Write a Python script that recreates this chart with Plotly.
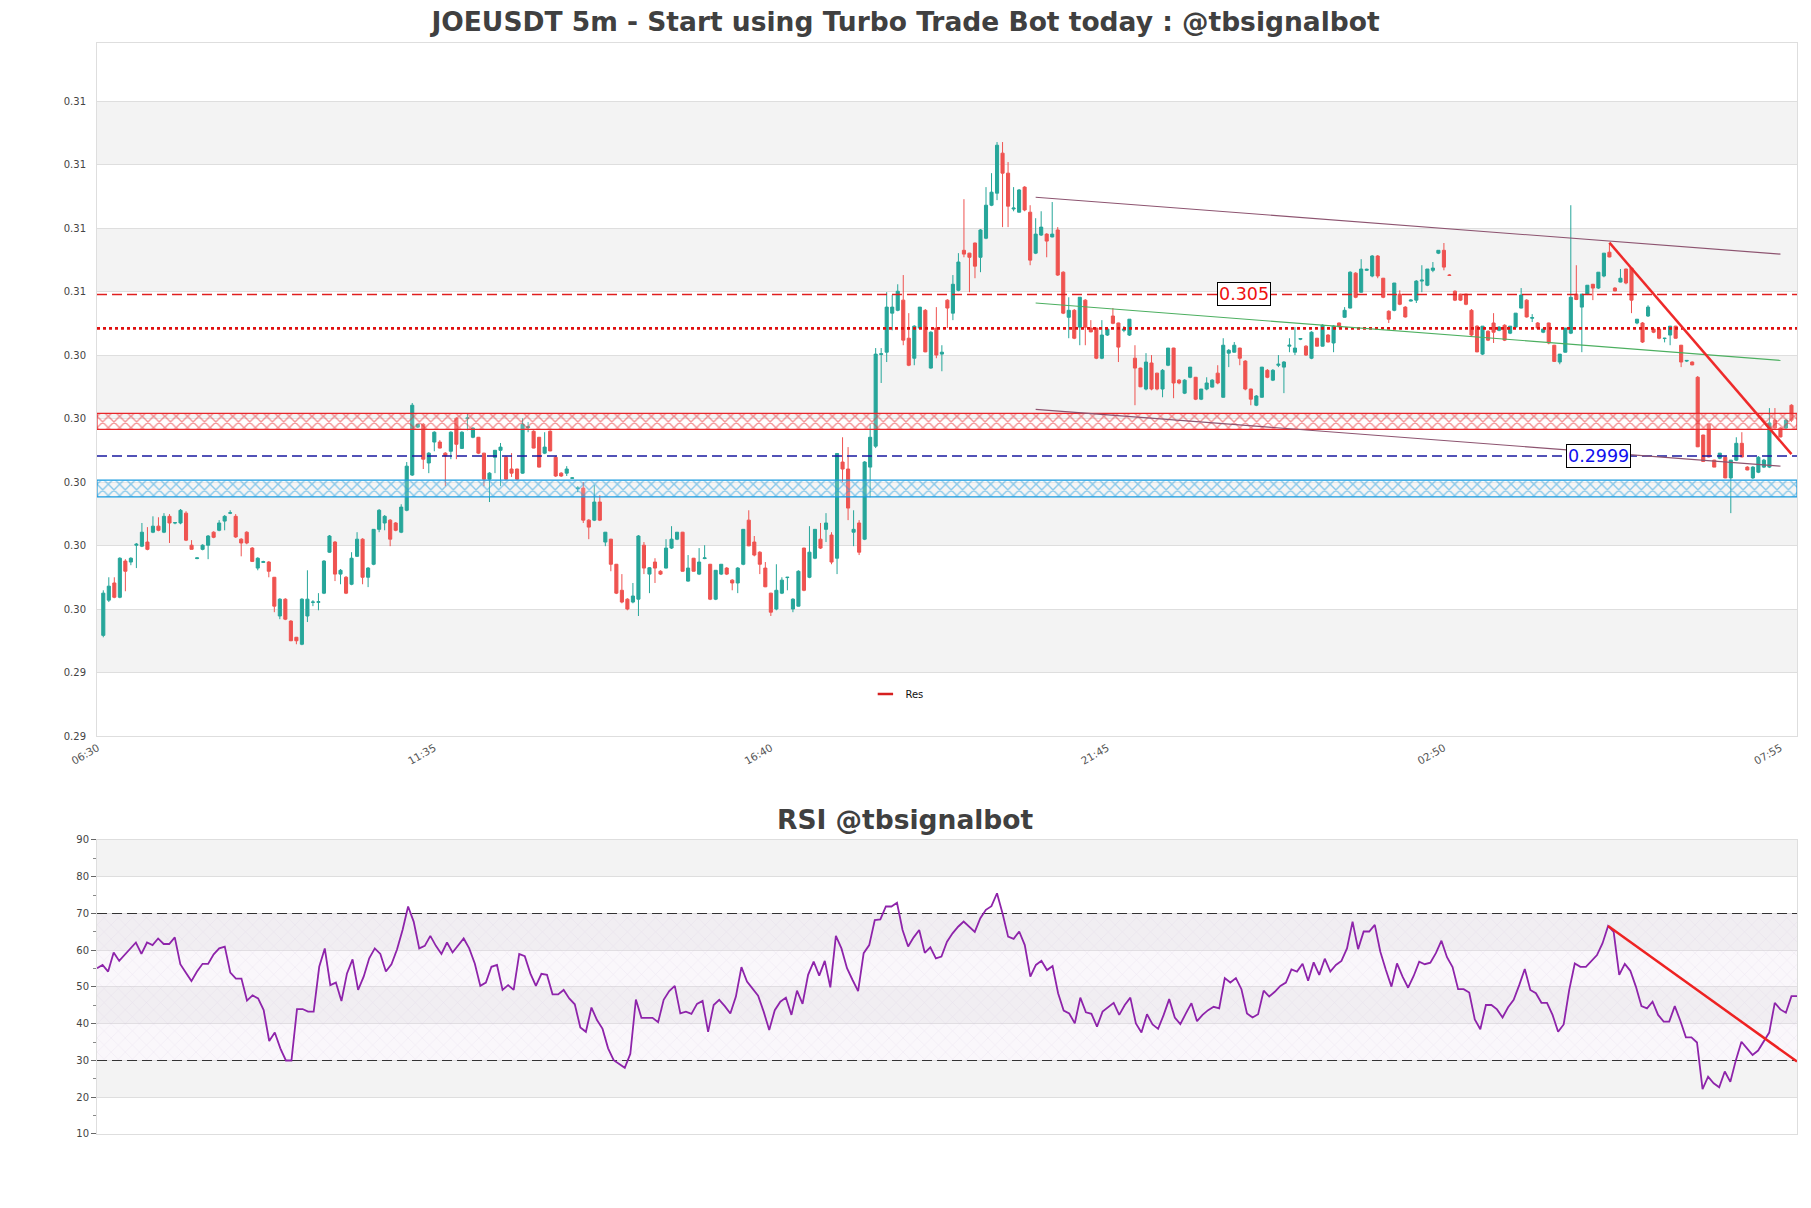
import plotly.graph_objects as go
import pandas as pd

# ---------------- data ----------------
times = pd.date_range("2024-05-14 06:35", periods=307, freq="5min")

opens = [0.29417,0.29528,0.29582,0.29537,0.29651,0.29648,0.29701,0.29698,0.29711,0.29742,
0.29761,0.29742,0.29792,0.29771,0.29771,0.29802,0.29701,0.29659,0.29688,0.29701,
0.29742,0.29748,0.29777,0.29802,0.29792,0.29720,0.29742,0.29692,0.29629,0.29647,
0.29648,0.29600,0.29478,0.29531,0.29462,0.29411,0.29389,0.29478,0.29521,0.29521,
0.29550,0.29679,0.29711,0.29610,0.29600,0.29578,0.29666,0.29720,0.29600,0.29641,
0.29751,0.29771,0.29780,0.29771,0.29742,0.29811,0.29922,0.30073,0.30082,0.29960,
0.30026,0.30026,0.29991,0.29997,0.30101,0.30006,0.30100,0.30041,0.30041,0.29991,
0.29909,0.29978,0.30000,0.29978,0.29941,0.29941,0.29928,0.30072,0.30060,0.30041,
0.29991,0.30060,0.29978,0.29928,0.29928,0.29912,0.29880,0.29881,0.29780,0.29780,
0.29837,0.29711,0.29720,0.29641,0.29559,0.29531,0.29522,0.29531,0.29701,0.29610,
0.29648,0.29619,0.29629,0.29692,0.29720,0.29742,0.29588,0.29660,0.29610,0.29659,
0.29641,0.29531,0.29610,0.29629,0.29591,0.29582,0.29641,0.29780,0.29711,0.29679,
0.29629,0.29550,0.29500,0.29550,0.29599,0.29500,0.29509,0.29692,0.29600,0.29660,
0.29720,0.29751,0.29733,0.29660,0.29963,0.29941,0.29742,0.29771,0.29720,0.29947,
0.30013,0.30302,0.30309,0.30432,0.30441,0.30473,0.30353,0.30290,0.30385,0.30441,
0.30259,0.30385,0.30303,0.30473,0.30432,0.30504,0.30630,0.30621,0.30653,0.30608,
0.30668,0.30772,0.30810,0.30936,0.30873,0.30760,0.30750,0.30829,0.30750,0.30621,
0.30678,0.30681,0.30672,0.30694,0.30561,0.30419,0.30441,0.30388,0.30473,0.30385,
0.30385,0.30290,0.30363,0.30423,0.30401,0.30378,0.30363,0.30290,0.30259,0.30193,
0.30275,0.30243,0.30193,0.30268,0.30322,0.30221,0.30180,0.30230,0.30230,0.30161,
0.30193,0.30199,0.30243,0.30167,0.30306,0.30309,0.30322,0.30281,0.30193,0.30142,
0.30167,0.30252,0.30221,0.30268,0.30262,0.30328,0.30309,0.30350,0.30328,0.30290,
0.30353,0.30328,0.30363,0.30338,0.30401,0.30419,0.30448,0.30558,0.30498,0.30567,
0.30549,0.30612,0.30542,0.30438,0.30441,0.30492,0.30451,0.30470,0.30473,0.30533,
0.30520,0.30567,0.30621,0.30630,0.30552,0.30501,0.30492,0.30492,0.30441,0.30391,
0.30303,0.30375,0.30401,0.30378,0.30394,0.30369,0.30388,0.30448,0.30473,0.30416,
0.30401,0.30372,0.30401,0.30331,0.30278,0.30309,0.30369,0.30492,0.30451,0.30492,
0.30523,0.30511,0.30549,0.30624,0.30511,0.30530,0.30571,0.30574,0.30401,0.30401,
0.30423,0.30382,0.30382,0.30352,0.30363,0.30391,0.30331,0.30281,0.30278,0.30230,
0.30048,0.30082,0.29969,0.29975,0.29978,0.29913,0.29969,0.30022,0.29947,0.29913,
0.29931,0.29947,0.29947,0.30095,0.30070,0.30070,0.30142]

highs = [0.29559,0.29600,0.29600,0.29663,0.29657,0.29663,0.29708,0.29771,0.29758,0.29792,
0.29789,0.29802,0.29799,0.29774,0.29815,0.29808,0.29717,0.29662,0.29704,0.29733,
0.29745,0.29780,0.29796,0.29811,0.29799,0.29723,0.29745,0.29695,0.29663,0.29652,
0.29651,0.29601,0.29534,0.29534,0.29465,0.29412,0.29534,0.29622,0.29528,0.29550,
0.29654,0.29733,0.29714,0.29626,0.29604,0.29679,0.29742,0.29723,0.29632,0.29752,
0.29815,0.29796,0.29783,0.29774,0.29830,0.29963,0.30149,0.30082,0.30086,0.29994,
0.30060,0.30032,0.29994,0.30060,0.30104,0.30060,0.30117,0.30073,0.30042,0.29992,
0.29931,0.30000,0.30023,0.29982,0.29991,0.29942,0.30101,0.30089,0.30063,0.30042,
0.30057,0.30063,0.29982,0.29931,0.29950,0.29915,0.29887,0.29900,0.29783,0.29890,
0.29859,0.29742,0.29721,0.29642,0.29610,0.29534,0.29582,0.29733,0.29711,0.29632,
0.29660,0.29622,0.29720,0.29761,0.29742,0.29743,0.29670,0.29661,0.29692,0.29701,
0.29642,0.29622,0.29641,0.29632,0.29594,0.29632,0.29752,0.29811,0.29730,0.29682,
0.29648,0.29551,0.29641,0.29600,0.29601,0.29534,0.29622,0.29693,0.29761,0.29752,
0.29771,0.29802,0.29742,0.29991,0.30041,0.30010,0.29811,0.29780,0.29966,0.30082,
0.30322,0.30322,0.30498,0.30489,0.30523,0.30552,0.30432,0.30394,0.30451,0.30445,
0.30375,0.30451,0.30331,0.30476,0.30552,0.30621,0.30791,0.30622,0.30654,0.30697,
0.30829,0.30873,0.30971,0.30971,0.30908,0.30829,0.30823,0.30832,0.30772,0.30731,
0.30753,0.30684,0.30782,0.30703,0.30564,0.30482,0.30445,0.30482,0.30476,0.30410,
0.30386,0.30410,0.30382,0.30448,0.30402,0.30391,0.30413,0.30331,0.30260,0.30306,
0.30300,0.30244,0.30256,0.30322,0.30323,0.30224,0.30224,0.30262,0.30231,0.30193,
0.30230,0.30224,0.30268,0.30353,0.30319,0.30341,0.30323,0.30284,0.30194,0.30174,
0.30262,0.30256,0.30256,0.30300,0.30281,0.30353,0.30388,0.30353,0.30331,0.30375,
0.30354,0.30397,0.30366,0.30394,0.30402,0.30451,0.30564,0.30561,0.30602,0.30572,
0.30615,0.30615,0.30543,0.30441,0.30527,0.30504,0.30454,0.30476,0.30536,0.30583,
0.30571,0.30593,0.30630,0.30653,0.30555,0.30504,0.30493,0.30493,0.30445,0.30394,
0.30391,0.30378,0.30432,0.30391,0.30397,0.30391,0.30432,0.30511,0.30476,0.30429,
0.30404,0.30382,0.30402,0.30332,0.30303,0.30385,0.30772,0.30583,0.30492,0.30520,
0.30524,0.30561,0.30621,0.30653,0.30514,0.30571,0.30572,0.30575,0.30413,0.30404,
0.30457,0.30385,0.30383,0.30354,0.30391,0.30392,0.30332,0.30284,0.30280,0.30234,
0.30049,0.30083,0.29970,0.29991,0.29982,0.29969,0.30041,0.30057,0.29950,0.29950,
0.29982,0.29973,0.30133,0.30133,0.30073,0.30098,0.30145]

lows = [0.29411,0.29522,0.29534,0.29534,0.29556,0.29638,0.29629,0.29695,0.29685,0.29739,
0.29745,0.29739,0.29708,0.29767,0.29767,0.29714,0.29688,0.29657,0.29685,0.29657,
0.29723,0.29745,0.29748,0.29799,0.29724,0.29666,0.29704,0.29648,0.29622,0.29645,
0.29600,0.29490,0.29468,0.29465,0.29399,0.29389,0.29386,0.29459,0.29509,0.29496,
0.29547,0.29677,0.29588,0.29578,0.29547,0.29575,0.29664,0.29578,0.29569,0.29638,
0.29742,0.29748,0.29698,0.29745,0.29739,0.29808,0.29919,0.30070,0.29941,0.29928,
0.29997,0.30006,0.29887,0.29972,0.29972,0.30004,0.30063,0.30038,0.29988,0.29887,
0.29837,0.29928,0.29887,0.29906,0.29916,0.29906,0.29926,0.30057,0.30006,0.29946,
0.29988,0.29997,0.29916,0.29916,0.29919,0.29910,0.29868,0.29771,0.29720,0.29777,
0.29777,0.29698,0.29619,0.29547,0.29518,0.29496,0.29518,0.29478,0.29610,0.29550,
0.29582,0.29607,0.29628,0.29689,0.29717,0.29618,0.29586,0.29618,0.29607,0.29657,
0.29528,0.29528,0.29607,0.29607,0.29559,0.29550,0.29638,0.29698,0.29666,0.29610,
0.29569,0.29478,0.29496,0.29547,0.29559,0.29490,0.29508,0.29556,0.29597,0.29657,
0.29689,0.29711,0.29641,0.29610,0.29900,0.29780,0.29698,0.29670,0.29717,0.29852,
0.30007,0.30212,0.30278,0.30378,0.30438,0.30331,0.30265,0.30268,0.30382,0.30309,
0.30257,0.30290,0.30249,0.30385,0.30410,0.30501,0.30608,0.30498,0.30542,0.30561,
0.30665,0.30769,0.30788,0.30703,0.30703,0.30753,0.30749,0.30753,0.30583,0.30618,
0.30675,0.30608,0.30671,0.30549,0.30429,0.30353,0.30350,0.30331,0.30331,0.30372,
0.30287,0.30287,0.30360,0.30397,0.30278,0.30372,0.30360,0.30142,0.30199,0.30189,
0.30189,0.30189,0.30167,0.30265,0.30164,0.30208,0.30177,0.30227,0.30158,0.30158,
0.30189,0.30198,0.30208,0.30166,0.30262,0.30308,0.30268,0.30189,0.30142,0.30139,
0.30166,0.30227,0.30218,0.30262,0.30180,0.30309,0.30300,0.30347,0.30297,0.30287,
0.30327,0.30327,0.30340,0.30309,0.30388,0.30418,0.30447,0.30479,0.30497,0.30565,
0.30545,0.30542,0.30479,0.30401,0.30438,0.30457,0.30418,0.30469,0.30464,0.30498,
0.30517,0.30561,0.30618,0.30567,0.30549,0.30470,0.30470,0.30457,0.30360,0.30309,
0.30300,0.30344,0.30338,0.30375,0.30344,0.30366,0.30387,0.30447,0.30418,0.30404,
0.30382,0.30369,0.30334,0.30278,0.30271,0.30308,0.30366,0.30473,0.30309,0.30489,
0.30473,0.30508,0.30545,0.30608,0.30501,0.30529,0.30523,0.30432,0.30397,0.30338,
0.30420,0.30369,0.30350,0.30340,0.30331,0.30352,0.30262,0.30278,0.30268,0.30010,
0.29963,0.29978,0.29947,0.29972,0.29912,0.29802,0.29966,0.29978,0.29937,0.29910,
0.29928,0.29944,0.29944,0.30067,0.30041,0.30067,0.30089]

closes = [0.29550,0.29572,0.29537,0.29660,0.29619,0.29660,0.29704,0.29742,0.29688,0.29761,
0.29748,0.29792,0.29771,0.29772,0.29811,0.29717,0.29688,0.29661,0.29701,0.29730,
0.29726,0.29771,0.29792,0.29803,0.29727,0.29708,0.29708,0.29650,0.29660,0.29649,
0.29619,0.29509,0.29531,0.29468,0.29400,0.29400,0.29531,0.29531,0.29522,0.29523,
0.29651,0.29730,0.29610,0.29622,0.29550,0.29660,0.29720,0.29600,0.29629,0.29751,
0.29811,0.29792,0.29720,0.29748,0.29821,0.29950,0.30142,0.30082,0.29972,0.29991,
0.30057,0.30007,0.29982,0.30057,0.30019,0.30057,0.30102,0.30070,0.29991,0.29909,
0.29928,0.30000,0.30010,0.29909,0.29928,0.29909,0.30082,0.30074,0.30007,0.29947,
0.30010,0.29998,0.29919,0.29919,0.29941,0.29913,0.29881,0.29780,0.29758,0.29837,
0.29780,0.29742,0.29641,0.29550,0.29522,0.29500,0.29541,0.29730,0.29629,0.29630,
0.29629,0.29610,0.29692,0.29720,0.29742,0.29619,0.29629,0.29619,0.29648,0.29661,
0.29531,0.29622,0.29641,0.29610,0.29582,0.29629,0.29751,0.29699,0.29670,0.29641,
0.29570,0.29490,0.29559,0.29591,0.29600,0.29531,0.29619,0.29559,0.29679,0.29751,
0.29692,0.29771,0.29648,0.29990,0.29941,0.29818,0.29751,0.29679,0.29963,0.30041,
0.30303,0.30304,0.30451,0.30451,0.30501,0.30347,0.30268,0.30391,0.30451,0.30310,
0.30372,0.30300,0.30309,0.30448,0.30523,0.30593,0.30618,0.30608,0.30580,0.30694,
0.30772,0.30813,0.30961,0.30873,0.30769,0.30763,0.30820,0.30757,0.30599,0.30681,
0.30703,0.30659,0.30681,0.30552,0.30432,0.30441,0.30353,0.30482,0.30388,0.30373,
0.30290,0.30363,0.30382,0.30400,0.30325,0.30382,0.30413,0.30259,0.30200,0.30278,
0.30193,0.30193,0.30252,0.30322,0.30212,0.30212,0.30221,0.30262,0.30161,0.30193,
0.30212,0.30221,0.30212,0.30331,0.30315,0.30331,0.30290,0.30193,0.30161,0.30171,
0.30262,0.30230,0.30252,0.30271,0.30278,0.30331,0.30322,0.30352,0.30300,0.30372,
0.30328,0.30394,0.30341,0.30391,0.30389,0.30441,0.30561,0.30482,0.30571,0.30570,
0.30612,0.30549,0.30482,0.30413,0.30527,0.30460,0.30420,0.30473,0.30533,0.30536,
0.30571,0.30574,0.30630,0.30577,0.30551,0.30473,0.30473,0.30460,0.30363,0.30310,
0.30391,0.30347,0.30372,0.30388,0.30347,0.30391,0.30432,0.30489,0.30420,0.30418,
0.30385,0.30382,0.30338,0.30280,0.30303,0.30385,0.30482,0.30475,0.30492,0.30520,
0.30511,0.30561,0.30621,0.30609,0.30502,0.30542,0.30527,0.30473,0.30413,0.30341,
0.30451,0.30372,0.30353,0.30353,0.30391,0.30353,0.30278,0.30283,0.30269,0.30011,
0.29965,0.29979,0.29947,0.29991,0.29913,0.29969,0.30022,0.29979,0.29938,0.29947,
0.29978,0.29969,0.30086,0.30070,0.30042,0.30095,0.30095]

rsi_values = [55.1,56,54.2,59.4,57.1,58.7,60.5,62.1,59,62.1,61.4,63.2,61.7,61.7,63.5,56.2,53.9,51.6,54.2,56.3,
56.3,58.9,60.5,61,53.9,52.3,52.3,46.3,47.7,46.9,43.7,35.3,37.6,33.3,30,30,44,44,43.3,43.3,
55.5,60.5,50.5,51.2,46.2,53.7,57.5,49.2,52.8,57.8,60.5,59,54.2,56.2,60.2,65.5,71.9,67.8,60.5,61.2,
63.9,61.2,59,62.1,59.4,61.4,63.2,60.5,56.4,50.3,51.2,55.5,56,49.2,50.5,49.2,59,58.4,53.7,50.3,
53.6,53.3,48,48,49.2,46.9,45.3,39,37.8,44.4,41,38.6,33.3,30.1,29,28,31.8,46.6,41.6,41.6,
41.6,40.4,46.5,48.9,50.3,42.8,43.3,42.7,45.4,46.2,37.8,45.1,46.5,44.8,42.8,47.4,55.4,51.5,49.5,47.6,
43.3,38.3,43.7,46,47.1,42.4,49,45.4,53.3,56.9,53.1,57.1,49.9,63.9,60.5,55.1,51.9,48.9,59.2,61.4,
68.2,68.4,71.9,71.9,72.9,65.5,61,63.5,65.5,59.3,60.8,57.8,58.3,62.3,64.6,66.4,67.8,66.4,65,68.7,
71,72,75.5,70,63.7,63.1,65.1,61.4,52.8,56,57.1,54.6,55.7,48.3,43.6,42.8,40.1,47.1,43.1,42.7,
39.2,43.3,44.6,45.7,42.4,45.1,47.1,40.1,37.6,42.6,39.8,38.6,42.4,46.7,41.7,39.9,42.8,45.6,40.7,42.4,
43.7,44.6,44.2,52.4,51.2,52.4,49.4,42.8,41.7,42.6,49,47.4,48.7,50.3,51.2,54.8,54.2,56.3,51.7,56.7,
53.3,57.7,54.2,56,57.1,60.5,67.8,60.3,65.1,65.1,66.9,59.6,54.6,50.1,56.4,52.8,49.8,53,56.9,56.2,
56.6,59.2,62.6,58.1,55.4,49.4,49.4,48.5,41.2,38.5,45.1,45.1,43.9,41.7,44.5,46.5,50.5,54.9,49.2,48.3,
45.7,45.7,42.4,37.8,39.8,49.2,56.4,55.5,55.5,57.2,58.7,61.9,66.6,65,53.3,56.3,54.4,50.1,44.8,44.2,
46,42.4,40.6,40.6,44.8,40.8,36.3,36.3,34.9,22.2,25.6,23.8,22.7,27,24.2,30.1,35.1,33.3,31.5,32.7,
35.1,37.6,45.7,43.9,43,47.5,47.5]

x_tick_times = ["2024-05-14 06:30", "2024-05-14 11:35", "2024-05-14 16:40",
                "2024-05-14 21:45", "2024-05-15 02:50", "2024-05-15 07:55"]
x_tick_labels = ["06:30", "11:35", "16:40", "21:45", "02:50", "07:55"]
y_tick_values = [0.291, 0.293, 0.295, 0.297, 0.299, 0.301, 0.303, 0.305, 0.307, 0.309, 0.311]
y_tick_labels = ["0.29", "0.29", "0.30", "0.30", "0.30", "0.30", "0.30", "0.31", "0.31", "0.31", "0.31"]
rsi_tick_values = [10, 20, 30, 40, 50, 60, 70, 80, 90]

res_price, res_text, res_text_time = 0.30491, "0.305", "2024-05-14 23:49"
sup_price, sup_text, sup_text_time = 0.29982, "0.2999", "2024-05-15 05:10"
pivot_price = 0.30384
res_zone = [0.30066, 0.30116]
sup_zone = [0.29853, 0.29906]
channel_times = ["2024-05-14 20:40", "2024-05-15 07:55"]
channel_upper = [0.30797, 0.30618]
channel_middle = [0.30464, 0.30283]
channel_lower = [0.30129, 0.29950]
downtrend_times = ["2024-05-15 05:20", "2024-05-15 08:05"]
downtrend_prices = [0.30654, 0.29988]
rsi_trend_times = ["2024-05-15 05:15", "2024-05-15 08:05"]
rsi_trend_values = [66.6, 29.7]
rsi_overbought, rsi_oversold = 70, 30

# ---------------- figure ----------------
x_range = ["2024-05-14 06:29:18", "2024-05-15 08:10:00"]
y_range = [0.291, 0.31283]
rsi_x_range = [times[0], times[-1]]

UP, DOWN = "#26a69a", "#ef5350"
fig = go.Figure()

def hband(xr, lo, hi, color, xa, ya):
    fig.add_trace(go.Scatter(
        x=[xr[0], xr[1], xr[1], xr[0], xr[0]], y=[lo, lo, hi, hi, lo],
        mode="lines", fill="toself", line=dict(color=color, width=1.2),
        fillcolor="rgba(255,255,255,0.2)",
        fillpattern=dict(shape="x", fgcolor=color, size=8, solidity=0.32),
        hoverinfo="skip", showlegend=False, xaxis=xa, yaxis=ya))

hband(x_range, res_zone[0], res_zone[1], "#e8262a", "x", "y")
hband(x_range, sup_zone[0], sup_zone[1], "#1a9be0", "x", "y")

fig.add_trace(go.Candlestick(
    x=times, open=opens, high=highs, low=lows, close=closes,
    increasing=dict(line=dict(color=UP, width=1), fillcolor=UP),
    decreasing=dict(line=dict(color=DOWN, width=1), fillcolor=DOWN),
    whiskerwidth=0, showlegend=False, hoverinfo="skip", xaxis="x", yaxis="y"))

def hline(val, color, width, dash, xr, xa, ya):
    fig.add_trace(go.Scatter(x=xr, y=[val, val], mode="lines",
                             line=dict(color=color, width=width, dash=dash),
                             hoverinfo="skip", showlegend=False, xaxis=xa, yaxis=ya))

hline(res_price, "#e02020", 1.5, "10px,5px", x_range, "x", "y")
hline(pivot_price, "#e01010", 2.6, "dot", x_range, "x", "y")
hline(sup_price, "#1a1aa0", 1.3, "10px,5px", x_range, "x", "y")

for vals, col, w in [(channel_upper, "#8d5470", 1.1), (channel_middle, "#4caf60", 1.1),
                     (channel_lower, "#8d5470", 1.1)]:
    fig.add_trace(go.Scatter(x=channel_times, y=vals, mode="lines",
                             line=dict(color=col, width=w), hoverinfo="skip",
                             showlegend=False, xaxis="x", yaxis="y"))
fig.add_trace(go.Scatter(x=downtrend_times, y=downtrend_prices, mode="lines",
                         line=dict(color="#ee2a2a", width=2.5), hoverinfo="skip",
                         showlegend=False, xaxis="x", yaxis="y"))

# legend entry
fig.add_trace(go.Scatter(x=[None], y=[None], mode="markers", name="Res",
                         marker=dict(symbol="line-ew-open", size=11, color="#d62020",
                                     line=dict(color="#d62020", width=2.5)),
                         showlegend=True, xaxis="x", yaxis="y"))

# RSI panel
fig.add_trace(go.Scatter(
    x=[rsi_x_range[0], rsi_x_range[1], rsi_x_range[1], rsi_x_range[0], rsi_x_range[0]],
    y=[rsi_oversold, rsi_oversold, rsi_overbought, rsi_overbought, rsi_oversold],
    mode="lines", line=dict(width=0), fill="toself",
    fillcolor="rgba(235,225,240,0.25)",
    fillpattern=dict(shape="x", fgcolor="rgba(200,175,215,0.6)", size=10, solidity=0.08),
    hoverinfo="skip", showlegend=False, xaxis="x2", yaxis="y2"))
hline(rsi_overbought, "#333333", 1.2, "10px,5px", rsi_x_range, "x2", "y2")
hline(rsi_oversold, "#333333", 1.2, "10px,5px", rsi_x_range, "x2", "y2")
fig.add_trace(go.Scatter(x=times, y=rsi_values, mode="lines",
                         line=dict(color="#8e24aa", width=1.8), hoverinfo="skip",
                         showlegend=False, xaxis="x2", yaxis="y2"))
fig.add_trace(go.Scatter(x=rsi_trend_times, y=rsi_trend_values, mode="lines",
                         line=dict(color="#ee2222", width=2.5), hoverinfo="skip",
                         showlegend=False, xaxis="x2", yaxis="y2"))

# background bands
shapes = []
for k in range(1, len(y_tick_values) - 1, 2):
    shapes.append(dict(type="rect", xref="x domain", yref="y", x0=0, x1=1,
                       y0=y_tick_values[k], y1=y_tick_values[k + 1],
                       fillcolor="#f3f3f3", line=dict(width=0), layer="below"))
for k in range(1, len(rsi_tick_values) - 1, 2):
    shapes.append(dict(type="rect", xref="x2 domain", yref="y2", x0=0, x1=1,
                       y0=rsi_tick_values[k], y1=rsi_tick_values[k + 1],
                       fillcolor="#f3f3f3", line=dict(width=0), layer="below"))

TICKF = dict(family="DejaVu Sans", size=10, color="#444444")
GRID = "#dedede"

H = 1208
fig.update_layout(
    width=1811, height=H,
    margin=dict(l=97, r=14, t=43, b=74),
    paper_bgcolor="white", plot_bgcolor="white",
    boxgap=0.2,
    shapes=shapes,
    title=dict(text="<b>JOEUSDT 5m - Start using Turbo Trade Bot today : @tbsignalbot</b>",
               x=0.5, xref="container", xanchor="center",
               y=1 - 22 / H, yref="container", yanchor="middle",
               font=dict(family="DejaVu Sans", size=26.5, color="#404040")),
    showlegend=True,
    legend=dict(x=0.452, y=0.4033, xanchor="left", yanchor="middle",
                bgcolor="rgba(0,0,0,0)", font=dict(family="DejaVu Sans", size=10, color="#111111")),
    xaxis=dict(domain=[0, 1], anchor="y", type="date", range=x_range,
               tickmode="array", tickvals=x_tick_times, ticktext=x_tick_labels,
               tickangle=-30, tickfont=dict(family="DejaVu Sans", size=10.5, color="#555555"),
               showgrid=False, showline=True, linecolor=GRID, mirror=True,
               rangeslider=dict(visible=False), zeroline=False, ticks="", ticklabelstandoff=1),
    yaxis=dict(domain=[0.3648, 1], anchor="x", range=y_range,
               tickmode="array", tickvals=y_tick_values, ticktext=y_tick_labels,
               tickfont=TICKF, showgrid=True, gridcolor=GRID, gridwidth=1,
               showline=True, linecolor=GRID, mirror=True, zeroline=False, ticks="",
               ticklabelstandoff=8),
    xaxis2=dict(domain=[0, 1], anchor="y2", type="date", range=rsi_x_range,
                showticklabels=False, showgrid=False, showline=True, linecolor=GRID,
                mirror=True, zeroline=False, ticks=""),
    yaxis2=dict(domain=[0, 0.2695], anchor="x2", range=[10, 90],
                tickmode="array", tickvals=rsi_tick_values, tickfont=TICKF,
                showgrid=True, gridcolor=GRID, showline=True, linecolor=GRID, mirror=True,
                zeroline=False, ticks="outside", ticklen=5, tickcolor="#666666",
                minor=dict(tickmode="linear", tick0=5, dtick=10, ticks="outside",
                           ticklen=3, tickcolor="#888888", showgrid=False)),
    annotations=[
        dict(x=res_text_time, y=res_price, xref="x", yref="y", text=res_text,
             showarrow=False, font=dict(family="DejaVu Sans", size=17.5, color="#ee1111"),
             bgcolor="white", bordercolor="black", borderwidth=1, borderpad=1),
        dict(x=sup_text_time, y=sup_price, xref="x", yref="y", text=sup_text,
             showarrow=False, font=dict(family="DejaVu Sans", size=17.5, color="#1111ee"),
             bgcolor="white", bordercolor="black", borderwidth=1, borderpad=1),
        dict(x=(905.5 - 97) / 1700, y=(1134 - 819) / 1091, xref="paper", yref="paper",
             text="<b>RSI @tbsignalbot</b>", showarrow=False, xanchor="center", yanchor="middle",
             font=dict(family="DejaVu Sans", size=26.5, color="#404040")),
    ],
)

fig.write_html("out.html", config={"displayModeBar": False},
               post_script="document.body.style.margin='0';document.body.style.overflow='hidden';")
